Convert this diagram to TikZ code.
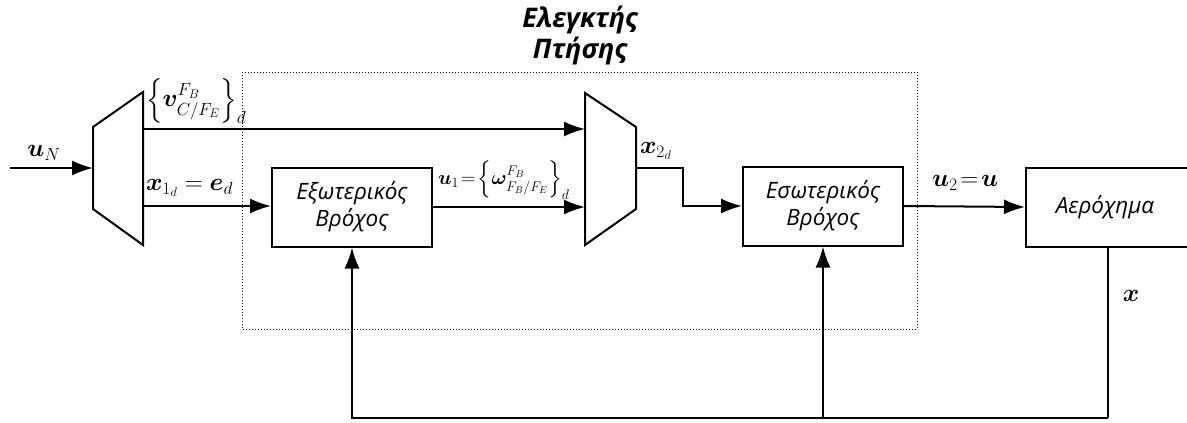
\RequirePackage{fix-cm}
\documentclass[tikz,border=0pt]{standalone}
\usepackage{amsmath,bm}
\usepackage{fontspec}
\setmainfont{Open Sans}
\usetikzlibrary{arrows.meta}
\begin{document}
\begin{tikzpicture}[x=1pt,y=-1pt,
  line width=2pt,
  arr/.style={-{Latex[length=21pt,width=15pt]}},
  blk/.style={draw,line width=2pt,minimum width=160pt,minimum height=79pt,align=center,font=\fontsize{22.5}{27}\selectfont\itshape,inner sep=0pt},
  lbl/.style={font=\fontsize{25}{29}\selectfont,inner sep=0pt},
  ttl/.style={font=\fontsize{27}{31}\selectfont\bfseries\itshape,align=center}]
\useasboundingbox (0,0) rectangle (1187,423);
% dotted frame
\draw[dotted,line width=1pt] (242,72) rectangle (917,329);
\node[ttl] (title) at (580,35) {Ελεγκτής\\Πτήσης};
% muxes
\coordinate (m1a) at (93,127); \coordinate (m1b) at (143,92);
\coordinate (m1c) at (143,245); \coordinate (m1d) at (93,209);
\draw (m1a) -- (m1b) -- (m1c) -- (m1d) -- cycle;
\coordinate (m2a) at (585,93); \coordinate (m2b) at (636,127);
\coordinate (m2c) at (636,209); \coordinate (m2d) at (585,245);
\draw (m2a) -- (m2b) -- (m2c) -- (m2d) -- cycle;
% blocks
\node[blk] (outer) at (352,207) {Εξωτερικός\\Βρόχος};
\node[blk] (inner) at (823,206) {Εσωτερικός\\Βρόχος};
\node[blk,minimum width=164pt] (plant) at (1108,207) {\hspace*{-6pt}Αερόχημα};
% connectors
\coordinate (in) at (10,168);
\coordinate (m1in) at (93,168);
\draw[arr] (in) -- (m1in);
\coordinate (m1o1) at (143,129); \coordinate (m2i1) at (585,129);
\draw[arr] (m1o1) -- (m2i1);
\coordinate (m1o2) at (143,206);
\draw[arr] (m1o2) -- (outer.west |- m1o2);
\coordinate (m2i2) at (585,207);
\draw[arr] (outer.east) -- (m2i2);
\coordinate (m2o) at (636,168); \coordinate (bend) at (683,168);
\draw[arr] (m2o) -- (bend) |- (inner.west);
\draw[arr] (inner.east) -- (plant.west);
\coordinate (fb) at (1108,418);
\draw (plant.south) -- (fb);
\draw[arr] (fb) -| (outer.south);
\coordinate (fbi) at (inner.south |- fb);
\draw[arr] (fbi) -- (inner.south);
% labels
\node[lbl] (luN) at (44,153) {$\boldsymbol{u}_N$};
\node[lbl,anchor=west] (lv) at (145,101) {$\left\{\boldsymbol{v}^{F_B}_{C/F_E}\right\}_d$};
\node[lbl,anchor=west] (lx1) at (145,188) {$\boldsymbol{x}_{1_d}=\boldsymbol{e}_d$};
\node[lbl,anchor=west,font=\fontsize{20}{24}\selectfont] (lu1) at (437,180) {$\boldsymbol{u}_1\!=\!\left\{\boldsymbol{\omega}^{F_B}_{F_B/F_E}\right\}_d$};
\node[lbl,anchor=west] (lx2) at (639,151) {$\boldsymbol{x}_{2_d}$};
\node[lbl,anchor=west] (lu2) at (931,183) {$\boldsymbol{u}_2\!=\!\boldsymbol{u}$};
\node[lbl] (lx) at (1131,296) {$\boldsymbol{x}$};
\end{tikzpicture}
\end{document}
